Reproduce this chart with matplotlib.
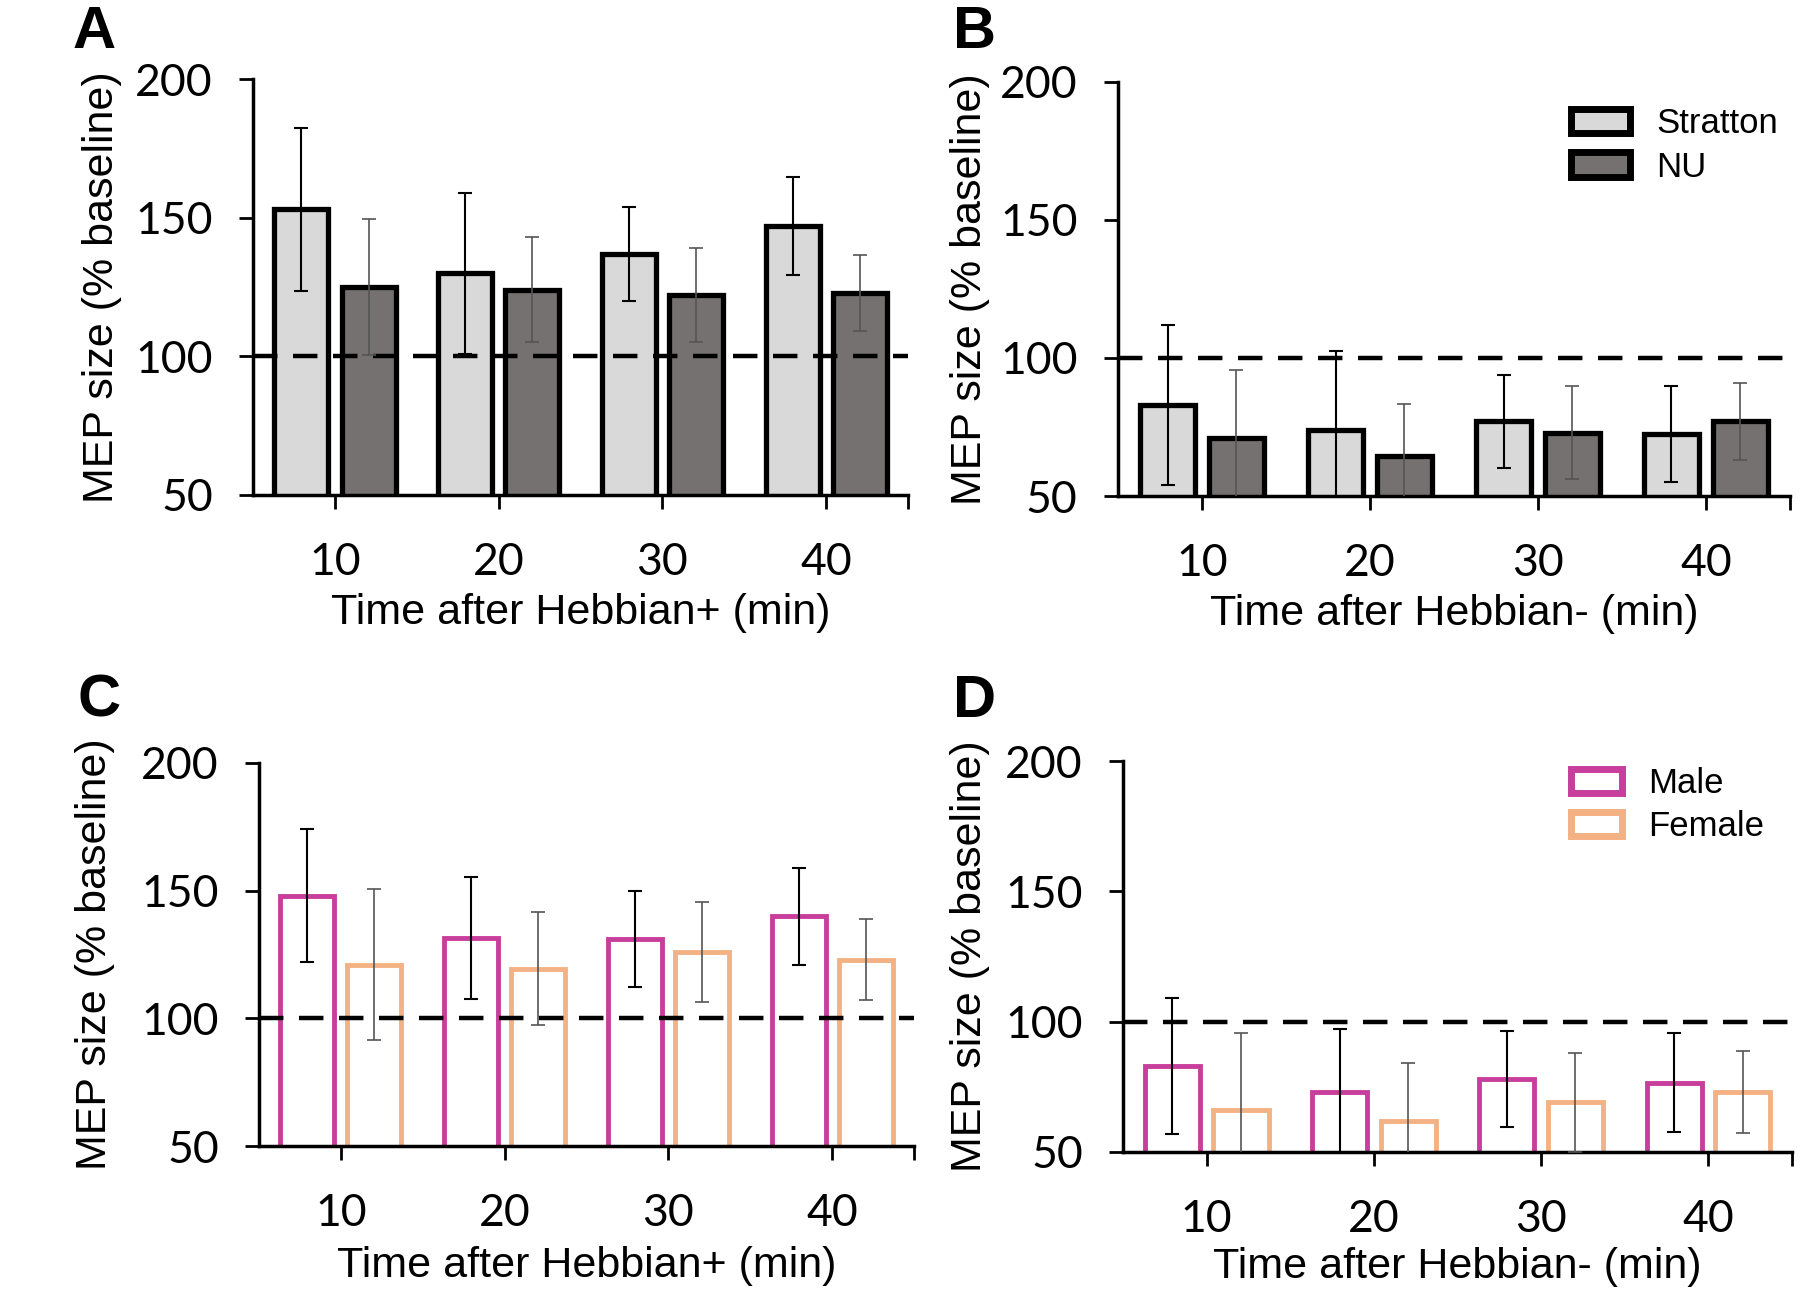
import numpy as np
import matplotlib
matplotlib.use('Agg')
import matplotlib.pyplot as plt
from matplotlib.patches import Patch

plt.rcParams['font.family'] = 'Liberation Sans'

times = ['10', '20', '30', '40']
yticks = [50, 100, 150, 200]

# panel A: Hebbian+ by group
a_stratton = [153, 130, 137, 147]
a_stratton_err = [29.5, 29, 17, 17.5]
a_nu = [125, 124, 122, 123]
a_nu_err = [24.5, 19, 17, 13.7]

# panel B: Hebbian- by group
b_stratton = [83, 74, 77, 72.5]
b_stratton_err = [29, 28.7, 17, 17.4]
b_nu = [71, 64.5, 73, 77]
b_nu_err = [24.5, 19, 17, 14]

# panel C: Hebbian+ by sex
c_male = [148, 131.5, 131, 140]
c_male_err = [26, 23.8, 18.7, 19]
c_female = [121, 119.5, 126, 123]
c_female_err = [29.6, 22, 19.6, 16]

# panel D: Hebbian- by sex
d_male = [83, 73, 78, 76.5]
d_male_err = [26, 24, 18.5, 19]
d_female = [66, 62, 69, 73]
d_female_err = [29.5, 22, 19, 15.7]

LIGHT = '#d9d9d9'
DARK = '#767171'
MAGENTA = '#c83e9c'
ORANGE = '#f4b183'

fig = plt.figure(figsize=(18, 12.91), dpi=100)

def panel(rect, v1, e1, v2, e2, style, xlabel, ylab_x, xlab_y):
    ax = fig.add_axes(rect)
    x = np.arange(len(times))
    off, w = 0.205, 0.33
    if style == 'grey':
        ax.bar(x - off, v1, w, color=LIGHT, edgecolor='black', lw=3.8, zorder=2)
        ax.bar(x + off, v2, w, color=DARK, edgecolor='black', lw=3.8, zorder=2)
    else:
        ax.bar(x - off, v1, w, color='white', edgecolor=MAGENTA, lw=3.5, zorder=2)
        ax.bar(x + off, v2, w, color='white', edgecolor=ORANGE, lw=3.5, zorder=2)
    ax.errorbar(x - off, v1, yerr=e1, fmt='none', ecolor='black', elinewidth=1.5,
                capsize=5, capthick=1.5, zorder=4)
    ax.errorbar(x + off, v2, yerr=e2, fmt='none', ecolor='#555555', elinewidth=1.2,
                capsize=5, capthick=1.2, zorder=4)
    ax.axhline(100, color='black', lw=3.2, dashes=(5.5, 3.5), zorder=3)
    ax.set_xlim(-0.5, 3.5)
    ax.set_ylim(50, 200)
    ax.set_yticks(yticks)
    ax.set_xticks(x)
    ax.set_xticklabels(times)
    ax.set_xticks([3.5], minor=True)
    for s in ['top', 'right']:
        ax.spines[s].set_visible(False)
    for s in ['left', 'bottom']:
        ax.spines[s].set_linewidth(2.5)
    ax.tick_params(axis='both', which='both', direction='out', length=10, width=2)
    ax.tick_params(axis='x', which='major', pad=24)
    ax.tick_params(axis='y', pad=19)
    for lab in ax.get_xticklabels() + ax.get_yticklabels():
        lab.set_family('Lato')
        lab.set_fontsize(32)
    ax.set_ylabel('MEP size (% baseline)', fontsize=31)
    ax.yaxis.set_label_coords(ylab_x, 0.5)
    ax.set_xlabel(xlabel, fontsize=31)
    ax.xaxis.set_label_coords(0.5, xlab_y)
    return ax

axA = panel([0.1406, 0.6166, 0.3639, 0.3222], a_stratton, a_stratton_err, a_nu, a_nu_err,
            'grey', 'Time after Hebbian+ (min)', -0.200, -0.236)
axB = panel([0.6211, 0.6158, 0.3733, 0.3207], b_stratton, b_stratton_err, b_nu, b_nu_err,
            'grey', 'Time after Hebbian- (min)', -0.190, -0.236)
axC = panel([0.1439, 0.1123, 0.3639, 0.2967], c_male, c_male_err, c_female, c_female_err,
            'sex', 'Time after Hebbian+ (min)', -0.220, -0.262)
axD = panel([0.6239, 0.1077, 0.3717, 0.3028], d_male, d_male_err, d_female, d_female_err,
            'sex', 'Time after Hebbian- (min)', -0.199, -0.242)

h_grp = [Patch(facecolor=LIGHT, edgecolor='black', lw=5, label='Stratton'),
         Patch(facecolor=DARK, edgecolor='black', lw=5, label='NU')]
fig.legend(handles=h_grp, loc='upper left', bbox_to_anchor=(0.873, 0.917), frameon=False,
           fontsize=25, handlelength=1.7, handleheight=0.7, handletextpad=0.75,
           labelspacing=0.3, borderpad=0, borderaxespad=0)
h_sex = [Patch(facecolor='white', edgecolor=MAGENTA, lw=5, label='Male'),
         Patch(facecolor='white', edgecolor=ORANGE, lw=5, label='Female')]
fig.legend(handles=h_sex, loc='upper left', bbox_to_anchor=(0.873, 0.406), frameon=False,
           fontsize=25, handlelength=1.45, handleheight=0.7, handletextpad=0.75,
           labelspacing=0.3, borderpad=0, borderaxespad=0)

for lbl, xx, yy in [('A', 73, 48), ('B', 953, 48), ('C', 78, 717), ('D', 953, 717)]:
    fig.text(xx / 1800, 1 - yy / 1291, lbl, fontsize=43, fontweight='bold', va='baseline')

fig.savefig('out.png', dpi=100)
